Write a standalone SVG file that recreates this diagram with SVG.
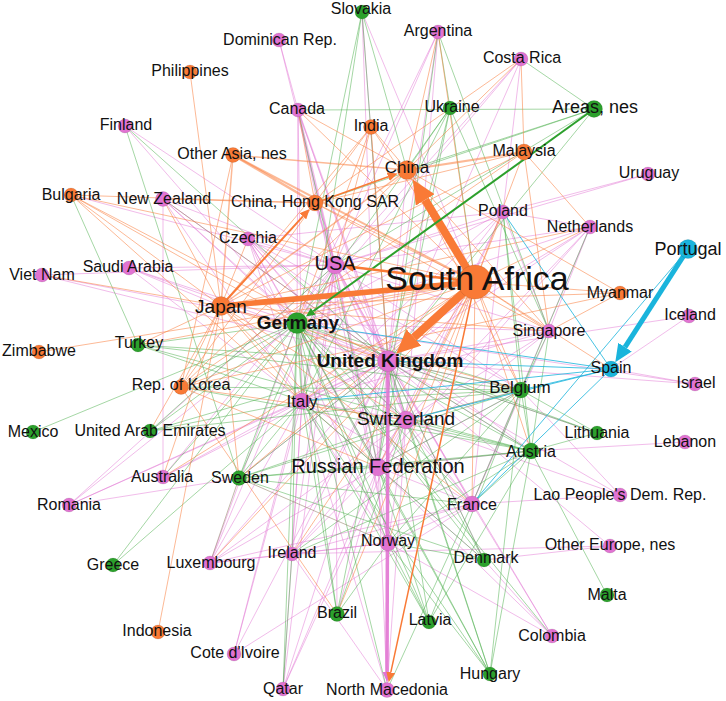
<svg xmlns="http://www.w3.org/2000/svg" width="726" height="701" viewBox="0 0 726 701">
<defs>
<style>
.bg{fill:#fff}
.p line{stroke:#e37ad6;stroke-opacity:.5}
.g line{stroke:#4caf4c;stroke-opacity:.5}
.o line{stroke:#fa8040;stroke-opacity:.55}
.c line{stroke:#1ab4dc;stroke-opacity:.8}
.b line{stroke:#9a8a72;stroke-opacity:.6}
.n circle{stroke:#000;stroke-opacity:.12;stroke-width:.8}
.fo{fill:#f97a36}.fp{fill:#e173d2}.fg{fill:#2ca02c}.fc{fill:#1ab4dc}
.n text{font-family:"Liberation Sans",Arial,sans-serif;font-size:16px;fill:#111;text-anchor:middle}
</style>
<marker id="aOL" viewBox="0 -11 24 22" markerUnits="userSpaceOnUse" markerWidth="24" markerHeight="22" refX="0" refY="0" orient="auto"><path d="M0,-11L24,0L0,11z" fill="#f97a36"/></marker>
<marker id="aC" viewBox="0 -8 18 16" markerUnits="userSpaceOnUse" markerWidth="18" markerHeight="16" refX="0" refY="0" orient="auto"><path d="M0,-8L18,0L0,8z" fill="#1ab4dc"/></marker>
<marker id="aO" viewBox="0 -4.5 10 9" markerUnits="userSpaceOnUse" markerWidth="10" markerHeight="9" refX="0" refY="0" orient="auto"><path d="M0,-4.5L10,0L0,4.5z" fill="#f97a36"/></marker>
<marker id="aG" viewBox="0 -4 9 8" markerUnits="userSpaceOnUse" markerWidth="9" markerHeight="8" refX="0" refY="0" orient="auto"><path d="M0,-4L9,0L0,4z" fill="#2ca02c"/></marker>
<marker id="aP" viewBox="0 -4.5 10 9" markerUnits="userSpaceOnUse" markerWidth="10" markerHeight="9" refX="0" refY="0" orient="auto"><path d="M0,-4.5L10,0L0,4.5z" fill="#e173d2"/></marker>
</defs>
<rect class="bg" width="726" height="701"/>
<g id="edges" fill="none" stroke-width="1">
<g class="p">
<line x1="388" y1="361" x2="335" y2="265" stroke-width="2"/>
<line x1="388" y1="361" x2="297" y2="323"/>
<line x1="388" y1="361" x2="302" y2="401"/>
<line x1="388" y1="361" x2="406" y2="420" stroke-width="2"/>
<line x1="388" y1="361" x2="378" y2="467" stroke-width="2"/>
<line x1="388" y1="361" x2="472" y2="504"/>
<line x1="388" y1="361" x2="521" y2="390"/>
<line x1="388" y1="361" x2="531" y2="451"/>
<line x1="388" y1="361" x2="239" y2="478"/>
<line x1="388" y1="361" x2="292" y2="554"/>
<line x1="388" y1="361" x2="210" y2="563"/>
<line x1="388" y1="361" x2="484" y2="560"/>
<line x1="388" y1="361" x2="503" y2="212"/>
<line x1="388" y1="361" x2="590" y2="227"/>
<line x1="388" y1="361" x2="248" y2="239"/>
<line x1="388" y1="361" x2="298" y2="110" stroke-width="1.5"/>
<line x1="388" y1="361" x2="549" y2="331"/>
<line x1="388" y1="361" x2="689" y2="316"/>
<line x1="388" y1="361" x2="695" y2="384"/>
<line x1="388" y1="361" x2="620" y2="495"/>
<line x1="388" y1="361" x2="552" y2="636"/>
<line x1="388" y1="361" x2="234" y2="654"/>
<line x1="388" y1="361" x2="283" y2="689"/>
<line x1="388" y1="361" x2="69" y2="505"/>
<line x1="388" y1="361" x2="163" y2="477"/>
<line x1="388" y1="361" x2="163" y2="199"/>
<line x1="388" y1="361" x2="129" y2="268"/>
<line x1="388" y1="361" x2="42" y2="275"/>
<line x1="388" y1="361" x2="438" y2="32"/>
<line x1="388" y1="361" x2="362" y2="12"/>
<line x1="388" y1="361" x2="315" y2="203"/>
<line x1="388" y1="361" x2="407" y2="170"/>
<line x1="388" y1="361" x2="521" y2="59"/>
<line x1="388" y1="361" x2="610" y2="546"/>
<line x1="388" y1="361" x2="597" y2="433"/>
<line x1="335" y1="265" x2="298" y2="110" stroke-width="2"/>
<line x1="335" y1="265" x2="297" y2="323"/>
<line x1="335" y1="265" x2="302" y2="401"/>
<line x1="335" y1="265" x2="406" y2="420" stroke-width="1.5"/>
<line x1="335" y1="265" x2="378" y2="467" stroke-width="1.5"/>
<line x1="335" y1="265" x2="388" y2="543"/>
<line x1="335" y1="265" x2="472" y2="504"/>
<line x1="335" y1="265" x2="279" y2="40"/>
<line x1="335" y1="265" x2="648" y2="174"/>
<line x1="335" y1="265" x2="163" y2="477"/>
<line x1="335" y1="265" x2="163" y2="199"/>
<line x1="335" y1="265" x2="129" y2="268"/>
<line x1="335" y1="265" x2="42" y2="275"/>
<line x1="335" y1="265" x2="71" y2="195"/>
<line x1="335" y1="265" x2="248" y2="239"/>
<line x1="335" y1="265" x2="315" y2="203" stroke-width="2"/>
<line x1="335" y1="265" x2="521" y2="59"/>
<line x1="335" y1="265" x2="292" y2="554"/>
<line x1="335" y1="265" x2="210" y2="563"/>
<line x1="335" y1="265" x2="438" y2="32"/>
<line x1="335" y1="265" x2="521" y2="390"/>
<line x1="335" y1="265" x2="549" y2="331"/>
<line x1="335" y1="265" x2="503" y2="212"/>
<line x1="335" y1="265" x2="590" y2="227"/>
<line x1="335" y1="265" x2="283" y2="689"/>
<line x1="335" y1="265" x2="337" y2="614"/>
<line x1="335" y1="265" x2="234" y2="654"/>
<line x1="335" y1="265" x2="69" y2="505"/>
<line x1="378" y1="467" x2="406" y2="420"/>
<line x1="378" y1="467" x2="388" y2="543"/>
<line x1="378" y1="467" x2="472" y2="504"/>
<line x1="378" y1="467" x2="362" y2="12"/>
<line x1="378" y1="467" x2="248" y2="239"/>
<line x1="378" y1="467" x2="503" y2="212"/>
<line x1="378" y1="467" x2="283" y2="689"/>
<line x1="378" y1="467" x2="337" y2="614"/>
<line x1="378" y1="467" x2="292" y2="554"/>
<line x1="378" y1="467" x2="210" y2="563"/>
<line x1="378" y1="467" x2="531" y2="451"/>
<line x1="378" y1="467" x2="521" y2="390"/>
<line x1="378" y1="467" x2="549" y2="331"/>
<line x1="378" y1="467" x2="590" y2="227"/>
<line x1="378" y1="467" x2="552" y2="636"/>
<line x1="378" y1="467" x2="484" y2="560"/>
<line x1="378" y1="467" x2="387" y2="690"/>
<line x1="406" y1="420" x2="302" y2="401"/>
<line x1="406" y1="420" x2="388" y2="543"/>
<line x1="406" y1="420" x2="472" y2="504"/>
<line x1="406" y1="420" x2="248" y2="239"/>
<line x1="406" y1="420" x2="503" y2="212"/>
<line x1="406" y1="420" x2="590" y2="227"/>
<line x1="406" y1="420" x2="438" y2="32"/>
<line x1="406" y1="420" x2="298" y2="110"/>
<line x1="406" y1="420" x2="521" y2="390"/>
<line x1="406" y1="420" x2="292" y2="554"/>
<line x1="406" y1="420" x2="210" y2="563"/>
<line x1="406" y1="420" x2="549" y2="331"/>
<line x1="406" y1="420" x2="387" y2="690"/>
<line x1="406" y1="420" x2="283" y2="689"/>
<line x1="406" y1="420" x2="620" y2="495"/>
<line x1="302" y1="401" x2="248" y2="239"/>
<line x1="302" y1="401" x2="388" y2="543"/>
<line x1="302" y1="401" x2="472" y2="504"/>
<line x1="302" y1="401" x2="69" y2="505"/>
<line x1="302" y1="401" x2="234" y2="654"/>
<line x1="302" y1="401" x2="387" y2="690"/>
<line x1="302" y1="401" x2="292" y2="554"/>
<line x1="302" y1="401" x2="210" y2="563"/>
<line x1="302" y1="401" x2="163" y2="477"/>
<line x1="302" y1="401" x2="163" y2="199"/>
<line x1="302" y1="401" x2="298" y2="110"/>
<line x1="302" y1="401" x2="503" y2="212"/>
<line x1="302" y1="401" x2="590" y2="227"/>
<line x1="302" y1="401" x2="549" y2="331"/>
<line x1="302" y1="401" x2="283" y2="689"/>
<line x1="388" y1="543" x2="292" y2="554"/>
<line x1="388" y1="543" x2="210" y2="563"/>
<line x1="388" y1="543" x2="472" y2="504"/>
<line x1="388" y1="543" x2="552" y2="636"/>
<line x1="472" y1="504" x2="552" y2="636"/>
<line x1="472" y1="504" x2="210" y2="563"/>
<line x1="472" y1="504" x2="292" y2="554"/>
<line x1="472" y1="504" x2="620" y2="495"/>
<line x1="472" y1="504" x2="503" y2="212"/>
<line x1="472" y1="504" x2="590" y2="227"/>
<line x1="472" y1="504" x2="549" y2="331"/>
<line x1="472" y1="504" x2="234" y2="654"/>
<line x1="292" y1="554" x2="387" y2="690"/>
<line x1="292" y1="554" x2="610" y2="546"/>
<line x1="292" y1="554" x2="210" y2="563"/>
<line x1="503" y1="212" x2="590" y2="227"/>
<line x1="503" y1="212" x2="549" y2="331"/>
<line x1="503" y1="212" x2="521" y2="59"/>
<line x1="503" y1="212" x2="297" y2="323"/>
<line x1="503" y1="212" x2="248" y2="239"/>
<line x1="590" y1="227" x2="549" y2="331"/>
<line x1="590" y1="227" x2="297" y2="323"/>
<line x1="549" y1="331" x2="297" y2="323"/>
<line x1="689" y1="316" x2="611" y2="369"/>
<line x1="695" y1="384" x2="611" y2="369"/>
<line x1="695" y1="384" x2="297" y2="323"/>
<line x1="685" y1="442" x2="531" y2="451"/>
<line x1="620" y1="495" x2="521" y2="390"/>
<line x1="552" y1="636" x2="484" y2="560"/>
<line x1="610" y1="546" x2="484" y2="560"/>
<line x1="163" y1="477" x2="163" y2="199"/>
<line x1="279" y1="40" x2="298" y2="110"/>
<line x1="362" y1="12" x2="475" y2="282"/>
<line x1="125" y1="126" x2="297" y2="323"/>
<line x1="125" y1="126" x2="335" y2="265"/>
<line x1="129" y1="268" x2="297" y2="323"/>
<line x1="129" y1="268" x2="221" y2="306"/>
<line x1="129" y1="268" x2="302" y2="401"/>
<line x1="42" y1="275" x2="297" y2="323"/>
<line x1="69" y1="505" x2="239" y2="478"/>
<line x1="69" y1="505" x2="297" y2="323"/>
<line x1="163" y1="199" x2="297" y2="323"/>
<line x1="163" y1="199" x2="406" y2="420"/>
<line x1="210" y1="563" x2="297" y2="323"/>
<line x1="248" y1="239" x2="297" y2="323"/>
<line x1="248" y1="239" x2="388" y2="543"/>
<line x1="248" y1="239" x2="472" y2="504"/>
<line x1="248" y1="239" x2="531" y2="451"/>
<line x1="248" y1="239" x2="521" y2="390"/>
<line x1="298" y1="110" x2="297" y2="323"/>
<line x1="298" y1="110" x2="388" y2="543"/>
<line x1="438" y1="32" x2="297" y2="323"/>
<line x1="521" y1="59" x2="297" y2="323"/>
<line x1="648" y1="174" x2="503" y2="212"/>
</g>
<g class="g">
<line x1="297" y1="323" x2="302" y2="401" stroke-width="1.5"/>
<line x1="297" y1="323" x2="378" y2="467"/>
<line x1="297" y1="323" x2="406" y2="420"/>
<line x1="297" y1="323" x2="388" y2="543"/>
<line x1="297" y1="323" x2="472" y2="504"/>
<line x1="297" y1="323" x2="521" y2="390"/>
<line x1="297" y1="323" x2="531" y2="451"/>
<line x1="297" y1="323" x2="239" y2="478"/>
<line x1="297" y1="323" x2="292" y2="554"/>
<line x1="297" y1="323" x2="484" y2="560"/>
<line x1="297" y1="323" x2="337" y2="614"/>
<line x1="297" y1="323" x2="429" y2="622"/>
<line x1="297" y1="323" x2="490" y2="674"/>
<line x1="297" y1="323" x2="113" y2="565"/>
<line x1="297" y1="323" x2="33" y2="432"/>
<line x1="297" y1="323" x2="138" y2="345"/>
<line x1="297" y1="323" x2="150" y2="431"/>
<line x1="297" y1="323" x2="362" y2="12"/>
<line x1="297" y1="323" x2="450" y2="108"/>
<line x1="297" y1="323" x2="181" y2="387"/>
<line x1="297" y1="323" x2="163" y2="477"/>
<line x1="297" y1="323" x2="597" y2="433"/>
<line x1="297" y1="323" x2="552" y2="636"/>
<line x1="297" y1="323" x2="283" y2="689"/>
<line x1="297" y1="323" x2="387" y2="690"/>
<line x1="521" y1="390" x2="388" y2="361"/>
<line x1="521" y1="390" x2="302" y2="401"/>
<line x1="521" y1="390" x2="378" y2="467"/>
<line x1="521" y1="390" x2="406" y2="420"/>
<line x1="521" y1="390" x2="472" y2="504"/>
<line x1="521" y1="390" x2="531" y2="451"/>
<line x1="521" y1="390" x2="590" y2="227"/>
<line x1="521" y1="390" x2="388" y2="543"/>
<line x1="521" y1="390" x2="239" y2="478"/>
<line x1="521" y1="390" x2="503" y2="212"/>
<line x1="521" y1="390" x2="490" y2="674"/>
<line x1="521" y1="390" x2="181" y2="387"/>
<line x1="521" y1="390" x2="150" y2="431"/>
<line x1="521" y1="390" x2="138" y2="345"/>
<line x1="521" y1="390" x2="292" y2="554"/>
<line x1="521" y1="390" x2="429" y2="622"/>
<line x1="521" y1="390" x2="549" y2="331"/>
<line x1="531" y1="451" x2="302" y2="401"/>
<line x1="531" y1="451" x2="378" y2="467"/>
<line x1="531" y1="451" x2="406" y2="420"/>
<line x1="531" y1="451" x2="388" y2="361"/>
<line x1="531" y1="451" x2="607" y2="595"/>
<line x1="531" y1="451" x2="490" y2="674"/>
<line x1="531" y1="451" x2="429" y2="622"/>
<line x1="531" y1="451" x2="472" y2="504"/>
<line x1="531" y1="451" x2="239" y2="478"/>
<line x1="531" y1="451" x2="597" y2="433"/>
<line x1="531" y1="451" x2="388" y2="543"/>
<line x1="531" y1="451" x2="138" y2="345"/>
<line x1="531" y1="451" x2="181" y2="387"/>
<line x1="531" y1="451" x2="292" y2="554"/>
<line x1="531" y1="451" x2="549" y2="331"/>
<line x1="531" y1="451" x2="503" y2="212"/>
<line x1="239" y1="478" x2="302" y2="401"/>
<line x1="239" y1="478" x2="378" y2="467"/>
<line x1="239" y1="478" x2="388" y2="361"/>
<line x1="239" y1="478" x2="125" y2="126"/>
<line x1="239" y1="478" x2="484" y2="560"/>
<line x1="239" y1="478" x2="335" y2="265"/>
<line x1="239" y1="478" x2="406" y2="420"/>
<line x1="239" y1="478" x2="472" y2="504"/>
<line x1="484" y1="560" x2="388" y2="543"/>
<line x1="484" y1="560" x2="302" y2="401"/>
<line x1="484" y1="560" x2="388" y2="361"/>
<line x1="484" y1="560" x2="406" y2="420"/>
<line x1="429" y1="622" x2="388" y2="543"/>
<line x1="429" y1="622" x2="378" y2="467"/>
<line x1="429" y1="622" x2="388" y2="361"/>
<line x1="429" y1="622" x2="302" y2="401"/>
<line x1="490" y1="674" x2="378" y2="467"/>
<line x1="490" y1="674" x2="302" y2="401"/>
<line x1="490" y1="674" x2="388" y2="361"/>
<line x1="490" y1="674" x2="406" y2="420"/>
<line x1="490" y1="674" x2="388" y2="543"/>
<line x1="337" y1="614" x2="302" y2="401"/>
<line x1="337" y1="614" x2="388" y2="543"/>
<line x1="337" y1="614" x2="388" y2="361"/>
<line x1="337" y1="614" x2="406" y2="420"/>
<line x1="113" y1="565" x2="302" y2="401"/>
<line x1="150" y1="431" x2="388" y2="361"/>
<line x1="150" y1="431" x2="302" y2="401"/>
<line x1="150" y1="431" x2="335" y2="265"/>
<line x1="138" y1="345" x2="388" y2="361"/>
<line x1="138" y1="345" x2="71" y2="195"/>
<line x1="138" y1="345" x2="302" y2="401"/>
<line x1="298" y1="110" x2="594" y2="109"/>
<line x1="450" y1="108" x2="302" y2="401"/>
<line x1="450" y1="108" x2="407" y2="170"/>
<line x1="450" y1="108" x2="549" y2="331"/>
<line x1="450" y1="108" x2="388" y2="361"/>
<line x1="450" y1="108" x2="438" y2="32"/>
<line x1="450" y1="108" x2="378" y2="467"/>
<line x1="450" y1="108" x2="475" y2="282"/>
<line x1="594" y1="109" x2="407" y2="170"/>
<line x1="594" y1="109" x2="521" y2="59"/>
<line x1="594" y1="109" x2="335" y2="265"/>
<line x1="594" y1="109" x2="315" y2="203"/>
<line x1="594" y1="109" x2="388" y2="361"/>
<line x1="362" y1="12" x2="302" y2="401"/>
<line x1="362" y1="12" x2="388" y2="361"/>
<line x1="362" y1="12" x2="407" y2="170"/>
<line x1="597" y1="433" x2="388" y2="361"/>
<line x1="597" y1="433" x2="521" y2="390"/>
<line x1="283" y1="689" x2="292" y2="554"/>
<line x1="387" y1="690" x2="472" y2="504"/>
<line x1="125" y1="126" x2="388" y2="361"/>
<line x1="438" y1="32" x2="378" y2="467"/>
<line x1="438" y1="32" x2="549" y2="331"/>
<line x1="298" y1="110" x2="378" y2="467"/>
</g>
<g class="b">
<line x1="239" y1="478" x2="210" y2="563"/>
<line x1="239" y1="478" x2="388" y2="543"/>
<line x1="302" y1="401" x2="378" y2="467"/>
<line x1="163" y1="199" x2="388" y2="361"/>
</g>
<g class="o">
<line x1="475" y1="282" x2="297" y2="323"/>
<line x1="475" y1="282" x2="302" y2="401"/>
<line x1="475" y1="282" x2="406" y2="420"/>
<line x1="475" y1="282" x2="378" y2="467"/>
<line x1="475" y1="282" x2="590" y2="227"/>
<line x1="475" y1="282" x2="620" y2="293"/>
<line x1="475" y1="282" x2="549" y2="331"/>
<line x1="475" y1="282" x2="521" y2="390"/>
<line x1="475" y1="282" x2="524" y2="152"/>
<line x1="475" y1="282" x2="371" y2="127"/>
<line x1="475" y1="282" x2="181" y2="387"/>
<line x1="475" y1="282" x2="39" y2="352"/>
<line x1="475" y1="282" x2="71" y2="195"/>
<line x1="475" y1="282" x2="163" y2="477"/>
<line x1="475" y1="282" x2="472" y2="504"/>
<line x1="475" y1="282" x2="388" y2="543"/>
<line x1="475" y1="282" x2="292" y2="554"/>
<line x1="475" y1="282" x2="337" y2="614"/>
<line x1="475" y1="282" x2="315" y2="203"/>
<line x1="475" y1="282" x2="611" y2="369"/>
<line x1="475" y1="282" x2="531" y2="451"/>
<line x1="475" y1="282" x2="503" y2="212"/>
<line x1="475" y1="282" x2="298" y2="110"/>
<line x1="475" y1="282" x2="438" y2="32"/>
<line x1="475" y1="282" x2="138" y2="345"/>
<line x1="475" y1="282" x2="210" y2="563"/>
<line x1="475" y1="282" x2="239" y2="478"/>
<line x1="221" y1="306" x2="190" y2="72"/>
<line x1="221" y1="306" x2="158" y2="632"/>
<line x1="221" y1="306" x2="71" y2="195"/>
<line x1="221" y1="306" x2="42" y2="275"/>
<line x1="221" y1="306" x2="181" y2="387"/>
<line x1="221" y1="306" x2="163" y2="199"/>
<line x1="221" y1="306" x2="233" y2="155" stroke-width="1.5"/>
<line x1="221" y1="306" x2="407" y2="170" stroke-width="1.5"/>
<line x1="221" y1="306" x2="371" y2="127"/>
<line x1="221" y1="306" x2="524" y2="152"/>
<line x1="221" y1="306" x2="620" y2="293"/>
<line x1="221" y1="306" x2="388" y2="361"/>
<line x1="221" y1="306" x2="138" y2="345"/>
<line x1="221" y1="306" x2="150" y2="431"/>
<line x1="221" y1="306" x2="163" y2="477"/>
<line x1="221" y1="306" x2="239" y2="478"/>
<line x1="221" y1="306" x2="302" y2="401"/>
<line x1="221" y1="306" x2="406" y2="420"/>
<line x1="221" y1="306" x2="378" y2="467"/>
<line x1="221" y1="306" x2="549" y2="331"/>
<line x1="221" y1="306" x2="590" y2="227"/>
<line x1="221" y1="306" x2="248" y2="239"/>
<line x1="221" y1="306" x2="472" y2="504"/>
<line x1="221" y1="306" x2="521" y2="390"/>
<line x1="407" y1="170" x2="371" y2="127"/>
<line x1="407" y1="170" x2="524" y2="152" stroke-width="2.2"/>
<line x1="407" y1="170" x2="233" y2="155" stroke-width="1.5"/>
<line x1="407" y1="170" x2="181" y2="387"/>
<line x1="407" y1="170" x2="521" y2="59"/>
<line x1="407" y1="170" x2="438" y2="32"/>
<line x1="407" y1="170" x2="298" y2="110"/>
<line x1="407" y1="170" x2="549" y2="331"/>
<line x1="407" y1="170" x2="620" y2="293"/>
<line x1="407" y1="170" x2="521" y2="390"/>
<line x1="315" y1="203" x2="298" y2="110"/>
<line x1="315" y1="203" x2="181" y2="387"/>
<line x1="315" y1="203" x2="521" y2="59"/>
<line x1="315" y1="203" x2="163" y2="199"/>
<line x1="315" y1="203" x2="71" y2="195"/>
<line x1="315" y1="203" x2="371" y2="127"/>
<line x1="315" y1="203" x2="524" y2="152"/>
<line x1="315" y1="203" x2="549" y2="331"/>
<line x1="233" y1="155" x2="315" y2="203" stroke-width="2.5"/>
<line x1="233" y1="155" x2="181" y2="387"/>
<line x1="233" y1="155" x2="475" y2="282" stroke-width="2"/>
<line x1="371" y1="127" x2="388" y2="361"/>
<line x1="371" y1="127" x2="297" y2="323"/>
<line x1="371" y1="127" x2="335" y2="265"/>
<line x1="524" y1="152" x2="549" y2="331"/>
<line x1="524" y1="152" x2="181" y2="387"/>
<line x1="524" y1="152" x2="590" y2="227"/>
<line x1="524" y1="152" x2="521" y2="59"/>
<line x1="181" y1="387" x2="337" y2="614"/>
<line x1="181" y1="387" x2="406" y2="420"/>
<line x1="181" y1="387" x2="378" y2="467"/>
<line x1="620" y1="293" x2="181" y2="387"/>
<line x1="620" y1="293" x2="549" y2="331"/>
<line x1="71" y1="195" x2="297" y2="323"/>
<line x1="71" y1="195" x2="388" y2="361"/>
<line x1="71" y1="195" x2="302" y2="401"/>
</g>
<g class="c">
<line x1="611" y1="369" x2="297" y2="323"/>
<line x1="611" y1="369" x2="302" y2="401"/>
<line x1="611" y1="369" x2="388" y2="361"/>
<line x1="611" y1="369" x2="521" y2="390"/>
<line x1="611" y1="369" x2="472" y2="504"/>
<line x1="611" y1="369" x2="503" y2="212"/>
<line x1="611" y1="369" x2="406" y2="420"/>
<line x1="688" y1="249" x2="472" y2="504"/>
</g>
<g id="thick">
<line x1="475" y1="282" x2="221" y2="306" stroke="#f97a36" stroke-width="5.5"/>
<line x1="475" y1="282" x2="425.2" y2="199.9" stroke="#f97a36" stroke-width="8" marker-end="url(#aOL)"/>
<line x1="475" y1="282" x2="413.9" y2="337.5" stroke="#f97a36" stroke-width="8" marker-end="url(#aOL)"/>
<line x1="688" y1="249" x2="625" y2="347.1" stroke="#1ab4dc" stroke-width="5" marker-end="url(#aC)"/>
<line x1="594" y1="109" x2="313.2" y2="311.3" stroke="#2ca02c" stroke-width="2" marker-end="url(#aG)"/>
<line x1="475" y1="282" x2="353.8" y2="267.3" stroke="#f97a36" stroke-width="2.5" marker-end="url(#aO)"/>
<line x1="221" y1="306" x2="302.9" y2="216.3" stroke="#f97a36" stroke-width="2" marker-end="url(#aO)"/>
<line x1="315" y1="203" x2="388.2" y2="176.8" stroke="#f97a36" stroke-width="1.5" marker-end="url(#aO)"/>
<line x1="388" y1="361" x2="387" y2="672" stroke="#e173d2" stroke-width="3.5" stroke-opacity=".9" marker-end="url(#aP)"/>
<line x1="475" y1="282" x2="390.8" y2="672.4" stroke="#f97a36" stroke-width="1.5" marker-end="url(#aO)"/>
</g>
</g>
<g id="nodes">
<g id="n-slovakia" class="n"><circle cx="362" cy="12" r="7" class="fg"/><text x="361" y="14">Slovakia</text></g>
<g id="n-dominican" class="n"><circle cx="279" cy="40" r="7" class="fp"/><text x="280" y="45">Dominican Rep.</text></g>
<g id="n-argentina" class="n"><circle cx="438" cy="32" r="7" class="fp"/><text x="438" y="36">Argentina</text></g>
<g id="n-costarica" class="n"><circle cx="521" cy="59" r="7" class="fp"/><text x="522" y="63">Costa Rica</text></g>
<g id="n-philippines" class="n"><circle cx="190" cy="72" r="7" class="fo"/><text x="190" y="76">Philippines</text></g>
<g id="n-canada" class="n"><circle cx="298" cy="110" r="7" class="fp"/><text x="297" y="114">Canada</text></g>
<g id="n-ukraine" class="n"><circle cx="450" cy="108" r="7" class="fg"/><text x="452" y="112">Ukraine</text></g>
<g id="n-areas" class="n"><circle cx="594" cy="109" r="8.5" class="fg"/><text x="595" y="113" style="font-size:18px">Areas, nes</text></g>
<g id="n-india" class="n"><circle cx="371" cy="127" r="7.5" class="fo"/><text x="371" y="131">India</text></g>
<g id="n-finland" class="n"><circle cx="125" cy="126" r="7" class="fp"/><text x="126" y="130">Finland</text></g>
<g id="n-otherasia" class="n"><circle cx="233" cy="155" r="7.5" class="fo"/><text x="232" y="159">Other Asia, nes</text></g>
<g id="n-malaysia" class="n"><circle cx="524" cy="152" r="8" class="fo"/><text x="524" y="156">Malaysia</text></g>
<g id="n-china" class="n"><circle cx="407" cy="170" r="9.5" class="fo"/><text x="407" y="173" style="font-size:17px">China</text></g>
<g id="n-uruguay" class="n"><circle cx="648" cy="174" r="7" class="fp"/><text x="649" y="178">Uruguay</text></g>
<g id="n-bulgaria" class="n"><circle cx="71" cy="195" r="7" class="fo"/><text x="71" y="200">Bulgaria</text></g>
<g id="n-newzealand" class="n"><circle cx="163" cy="199" r="7.5" class="fp"/><text x="164" y="204">New Zealand</text></g>
<g id="n-hongkong" class="n"><circle cx="315" cy="203" r="8" class="fo"/><text x="315" y="207">China, Hong Kong SAR</text></g>
<g id="n-poland" class="n"><circle cx="503" cy="212" r="7" class="fp"/><text x="503" y="216">Poland</text></g>
<g id="n-czechia" class="n"><circle cx="248" cy="239" r="7" class="fp"/><text x="248" y="243">Czechia</text></g>
<g id="n-netherlands" class="n"><circle cx="590" cy="227" r="7" class="fp"/><text x="590" y="232">Netherlands</text></g>
<g id="n-portugal" class="n"><circle cx="688" cy="249" r="9.5" class="fc"/><text x="688" y="255" style="font-size:18px">Portugal</text></g>
<g id="n-usa" class="n"><circle cx="335" cy="265" r="9" class="fp"/><text x="335" y="270" style="font-size:20px">USA</text></g>
<g id="n-saudi" class="n"><circle cx="129" cy="268" r="7" class="fp"/><text x="128" y="272">Saudi Arabia</text></g>
<g id="n-vietnam" class="n"><circle cx="42" cy="275" r="7" class="fp"/><text x="42" y="280">Viet Nam</text></g>
<g id="n-japan" class="n"><circle cx="221" cy="306" r="9.5" class="fo"/><text x="221" y="313" style="font-size:19px">Japan</text></g>
<g id="n-myanmar" class="n"><circle cx="620" cy="293" r="7" class="fo"/><text x="620" y="298">Myanmar</text></g>
<g id="n-iceland" class="n"><circle cx="689" cy="316" r="7" class="fp"/><text x="690" y="320">Iceland</text></g>
<g id="n-singapore" class="n"><circle cx="549" cy="331" r="7" class="fp"/><text x="549" y="336">Singapore</text></g>
<g id="n-zimbabwe" class="n"><circle cx="39" cy="352" r="7" class="fo"/><text x="39" y="356">Zimbabwe</text></g>
<g id="n-turkey" class="n"><circle cx="138" cy="345" r="7" class="fg"/><text x="139" y="348">Turkey</text></g>
<g id="n-spain" class="n"><circle cx="611" cy="369" r="8" class="fc"/><text x="611" y="373">Spain</text></g>
<g id="n-korea" class="n"><circle cx="181" cy="387" r="7.5" class="fo"/><text x="181" y="390">Rep. of Korea</text></g>
<g id="n-israel" class="n"><circle cx="695" cy="384" r="7" class="fp"/><text x="696" y="388">Israel</text></g>
<g id="n-belgium" class="n"><circle cx="521" cy="390" r="8" class="fg"/><text x="520" y="393" style="font-size:17px">Belgium</text></g>
<g id="n-italy" class="n"><circle cx="302" cy="401" r="8" class="fp"/><text x="302" y="407" style="font-size:17px">Italy</text></g>
<g id="n-switzerland" class="n"><circle cx="406" cy="420" r="9" class="fp"/><text x="406" y="425" style="font-size:19px">Switzerland</text></g>
<g id="n-mexico" class="n"><circle cx="33" cy="432" r="7" class="fg"/><text x="33" y="437">Mexico</text></g>
<g id="n-uae" class="n"><circle cx="150" cy="431" r="7" class="fg"/><text x="150" y="436">United Arab Emirates</text></g>
<g id="n-austria" class="n"><circle cx="531" cy="451" r="8" class="fg"/><text x="531" y="457">Austria</text></g>
<g id="n-lithuania" class="n"><circle cx="597" cy="433" r="7" class="fg"/><text x="597" y="438">Lithuania</text></g>
<g id="n-lebanon" class="n"><circle cx="685" cy="442" r="7" class="fp"/><text x="685" y="447">Lebanon</text></g>
<g id="n-australia" class="n"><circle cx="163" cy="477" r="7" class="fp"/><text x="162" y="482">Australia</text></g>
<g id="n-sweden" class="n"><circle cx="239" cy="478" r="7.5" class="fg"/><text x="240" y="483">Sweden</text></g>
<g id="n-romania" class="n"><circle cx="69" cy="505" r="7" class="fp"/><text x="69" y="510">Romania</text></g>
<g id="n-france" class="n"><circle cx="472" cy="504" r="8" class="fp"/><text x="472" y="510">France</text></g>
<g id="n-lao" class="n"><circle cx="620" cy="495" r="7" class="fp"/><text x="620" y="500">Lao People's Dem. Rep.</text></g>
<g id="n-greece" class="n"><circle cx="113" cy="565" r="7" class="fg"/><text x="113" y="570">Greece</text></g>
<g id="n-luxembourg" class="n"><circle cx="210" cy="563" r="7" class="fp"/><text x="211" y="568">Luxembourg</text></g>
<g id="n-ireland" class="n"><circle cx="292" cy="554" r="7" class="fp"/><text x="292" y="558">Ireland</text></g>
<g id="n-norway" class="n"><circle cx="388" cy="543" r="8" class="fp"/><text x="388" y="546">Norway</text></g>
<g id="n-denmark" class="n"><circle cx="484" cy="560" r="7" class="fg"/><text x="486" y="563">Denmark</text></g>
<g id="n-othereurope" class="n"><circle cx="610" cy="546" r="7" class="fp"/><text x="610" y="550">Other Europe, nes</text></g>
<g id="n-malta" class="n"><circle cx="607" cy="595" r="7" class="fg"/><text x="607" y="600">Malta</text></g>
<g id="n-brazil" class="n"><circle cx="337" cy="614" r="7.5" class="fg"/><text x="337" y="618">Brazil</text></g>
<g id="n-latvia" class="n"><circle cx="429" cy="622" r="7" class="fg"/><text x="430" y="625">Latvia</text></g>
<g id="n-indonesia" class="n"><circle cx="158" cy="632" r="7" class="fo"/><text x="157" y="636">Indonesia</text></g>
<g id="n-colombia" class="n"><circle cx="552" cy="636" r="7" class="fp"/><text x="552" y="641">Colombia</text></g>
<g id="n-cotedivoire" class="n"><circle cx="234" cy="654" r="7" class="fp"/><text x="235" y="658">Cote d'Ivoire</text></g>
<g id="n-hungary" class="n"><circle cx="490" cy="674" r="7" class="fg"/><text x="490" y="679">Hungary</text></g>
<g id="n-qatar" class="n"><circle cx="283" cy="689" r="7" class="fp"/><text x="283" y="694">Qatar</text></g>
<g id="n-northmacedonia" class="n"><circle cx="387" cy="690" r="7.5" class="fp"/><text x="387" y="695">North Macedonia</text></g>
<g id="n-russia" class="n"><circle cx="378" cy="467" r="9" class="fp"/><text x="378" y="473" style="font-size:20px">Russian Federation</text></g>
<g id="n-germany" class="n"><circle cx="297" cy="323" r="10.5" class="fg"/><text x="298" y="329" style="font-size:19px;font-weight:bold">Germany</text></g>
<g id="n-uk" class="n"><circle cx="388" cy="361" r="10.5" class="fp"/><text x="390" y="367" style="font-size:19px;font-weight:bold">United Kingdom</text></g>
<g id="n-southafrica" class="n"><circle cx="475" cy="282" r="17" class="fo"/><text x="477" y="290" style="font-size:34px">South Africa</text></g>
</g>
</svg>
